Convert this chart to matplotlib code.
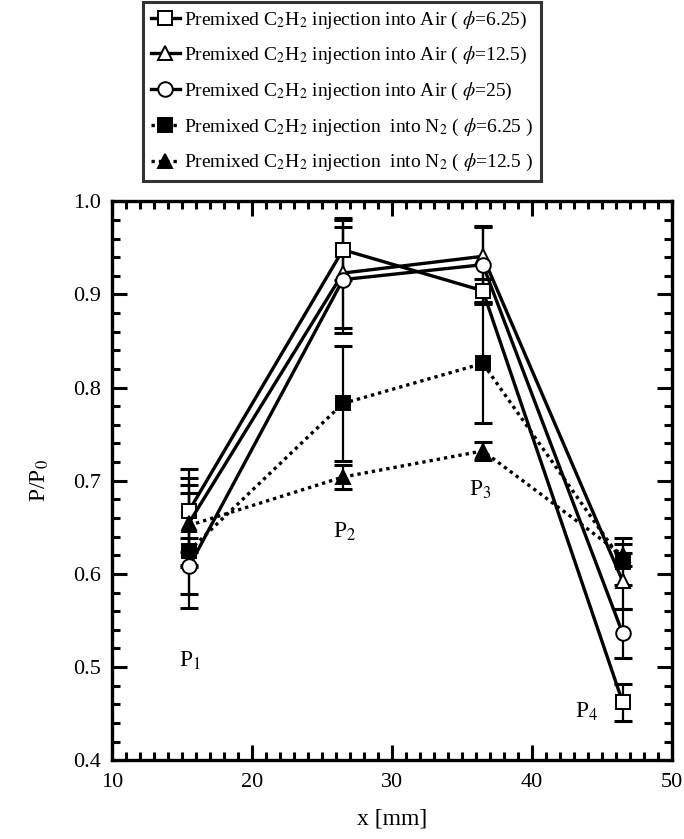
import matplotlib
matplotlib.use('Agg')
import matplotlib.pyplot as plt
from matplotlib.ticker import MultipleLocator

plt.rcParams['font.family'] = ['Liberation Serif', 'DejaVu Serif']
plt.rcParams['mathtext.fontset'] = 'stix'

# 位置 (mm)
x = [15.5, 26.5, 36.5, 46.5]

# Air 注入
air_625 = [0.668, 0.948, 0.904, 0.462]
air_625_err = [0.045, 0.032, 0.013, 0.020]
air_125 = [0.655, 0.923, 0.941, 0.592]
air_125_err = [0.048, 0.059, 0.033, 0.030]
air_25 = [0.608, 0.916, 0.932, 0.536]
air_25_err = [0.030, 0.057, 0.040, 0.026]

# N2 注入
n2_625 = [0.625, 0.783, 0.826, 0.613]
n2_625_err = [0.062, 0.062, 0.064, 0.025]
n2_125 = [0.652, 0.704, 0.732, 0.620]
n2_125_err = [0.043, 0.013, 0.010, 0.012]

labels = [
    r'Premixed C$_2$H$_2$ injection into Air ( $\phi$=6.25)',
    r'Premixed C$_2$H$_2$ injection into Air ( $\phi$=12.5)',
    r'Premixed C$_2$H$_2$ injection into Air ( $\phi$=25)',
    r'Premixed C$_2$H$_2$ injection  into N$_2$ ( $\phi$=6.25 )',
    r'Premixed C$_2$H$_2$ injection  into N$_2$ ( $\phi$=12.5 )',
]

point_labels = [r'P$_1$', r'P$_2$', r'P$_3$', r'P$_4$']
point_label_pos = [(15.6, 0.507), (26.6, 0.645), (36.3, 0.690), (43.9, 0.452)]

fig = plt.figure(figsize=(6.84, 8.39), dpi=100)
ax = fig.add_axes([0.164, 0.094, 0.818, 0.666])

series = [
    (air_625, air_625_err, 's', 'white', '-'),
    (air_125, air_125_err, '^', 'white', '-'),
    (air_25, air_25_err, 'o', 'white', '-'),
    (n2_625, n2_625_err, 's', 'black', (0, (1, 1.2))),
    (n2_125, n2_125_err, '^', 'black', (0, (1, 1.2))),
]

handles = []
for (y, e, m, fc, ls), lab in zip(series, labels):
    ax.errorbar(x, y, yerr=e, fmt='none', ecolor='black', elinewidth=1.6,
                capsize=6.5, capthick=2.2, zorder=2)
    h, = ax.plot(x, y, color='black', linestyle=ls, linewidth=2.4,
                 marker=m, markersize=10.5, markerfacecolor=fc,
                 markeredgecolor='black', markeredgewidth=1.4, label=lab, zorder=3)
    handles.append(h)

for t, (px, py) in zip(point_labels, point_label_pos):
    ax.text(px, py, t, fontsize=17, ha='center', va='center')

ax.set_xlim(10, 50)
ax.set_ylim(0.4, 1.0)
ax.xaxis.set_major_locator(MultipleLocator(10))
ax.xaxis.set_minor_locator(MultipleLocator(1))
ax.yaxis.set_major_locator(MultipleLocator(0.1))
ax.yaxis.set_minor_locator(MultipleLocator(0.02))
ax.tick_params(which='both', direction='in', top=True, right=True, width=2.2, labelsize=16)
ax.tick_params(which='major', length=11)
ax.tick_params(which='minor', length=6)
ax.tick_params(axis='x', pad=9)
ax.tick_params(axis='y', pad=8)
for s in ax.spines.values():
    s.set_linewidth(2.4)

ax.set_xlabel('x [mm]', fontsize=17, labelpad=12)
ax.set_ylabel(r'P/P$_0$', fontsize=17, labelpad=16)

leg = fig.legend(handles=handles, loc='upper center', bbox_to_anchor=(0.5, 0.998),
                 fontsize=14, frameon=True, fancybox=False, edgecolor='black',
                 handlelength=1.5, handletextpad=0.2, borderpad=0.4,
                 labelspacing=0.75, borderaxespad=0)
leg.get_frame().set_linewidth(2.2)

fig.savefig('out.png', dpi=100)
